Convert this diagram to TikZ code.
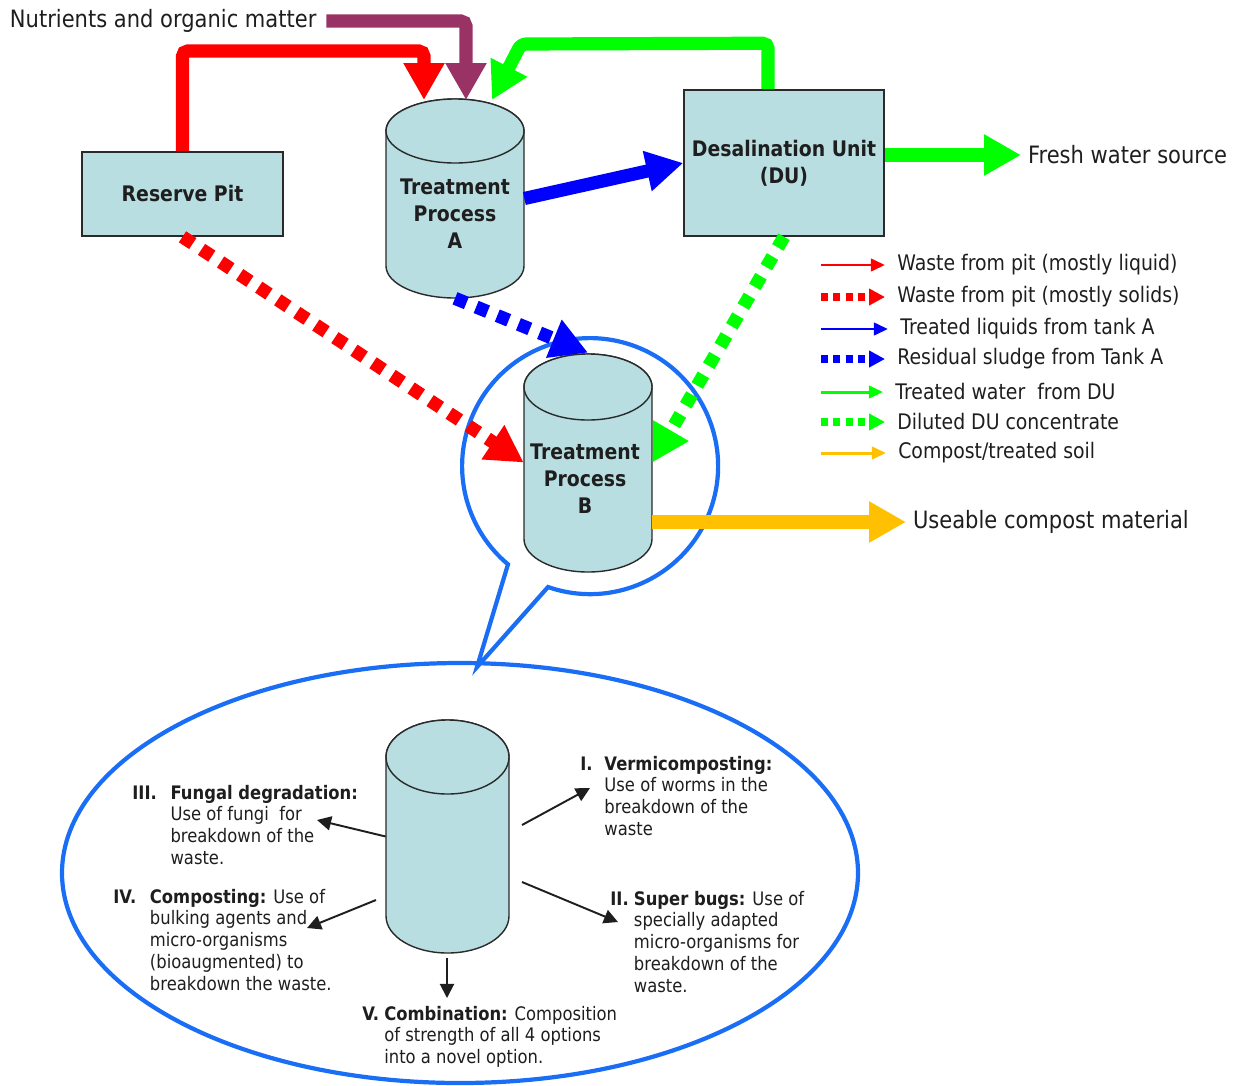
\documentclass[tikz,border=0pt]{standalone}
\usepackage{fontspec}
\setmainfont{DejaVu Sans}[FakeStretch=0.88]
\usetikzlibrary{arrows.meta,calc}
\definecolor{tankfill}{HTML}{B8DEE2}
\definecolor{boxline}{HTML}{2A2A2A}
\definecolor{textgray}{HTML}{1E1E1E}
\definecolor{cred}{HTML}{FF0000}
\definecolor{cpurple}{HTML}{993366}
\definecolor{cgreen}{HTML}{00FF00}
\definecolor{cblue}{HTML}{0000FF}
\definecolor{corange}{HTML}{FFC000}
\definecolor{bubbleblue}{HTML}{1A6EF5}
\newcommand\drawtank[5]{%
  \path[tankbody] ({#1-#3},#2) -- ({#1-#3},#5)
    arc[start angle=180,end angle=0,x radius=#3,y radius=#4]
    -- ({#1+#3},#2)
    arc[start angle=0,end angle=-180,x radius=#3,y radius=#4] -- cycle;
  \path[tankbody] (#1,#2) ellipse[x radius=#3,y radius=#4];
}
\begin{document}
\begin{tikzpicture}[x=0.02cm,y=-0.02cm,
  box/.style={draw=boxline,line width=0.9pt,fill=tankfill,inner sep=0pt,
    font=\bfseries\fontsize{12.2}{15.3}\selectfont,align=center,text=textgray},
  tankbody/.style={fill=tankfill,draw=boxline,line width=0.8pt},
  hidden/.style={inner sep=0pt,draw=none},
  tanklabel/.style={font=\bfseries\fontsize{12.2}{15.3}\selectfont,align=center,inner sep=0pt,text=textgray},
  big/.style={font=\fontsize{13.6}{16}\selectfont,inner sep=0pt,outer xsep=4pt,anchor=west,text=textgray},
  legtext/.style={font=\fontsize{12.2}{14}\selectfont,inner sep=0pt,outer xsep=7pt,anchor=west,text=textgray},
  fat/.style={line width=7.5pt,-{Triangle[length=21pt,width=22pt]}},
  fatdot/.style={fat,dash pattern=on 7pt off 6pt},
  leg/.style={line width=1.7pt,-{Triangle[length=8pt,width=7pt]}},
  legdot/.style={line width=4pt,dash pattern=on 4pt off 3pt,-{Triangle[length=9pt,width=9pt]}},
  thinarrow/.style={line width=1.1pt,textgray,-{Triangle[length=8pt,width=8pt]}},
  note/.style={font=\fontsize{10.6}{12.5}\selectfont,inner sep=0pt,anchor=base west,text=textgray},
  bubble/.style={draw=bubbleblue,line width=2.4pt}
]
\useasboundingbox (0,0) rectangle (1236,1085);

% ---- callout bubble and big ellipse
\draw[bubble,line join=miter] (548,587) arc[start angle=109.2,end angle=-230.1,radius=128] -- (477,667) -- cycle;
\draw[bubble] (460,873) ellipse[x radius=398,y radius=210];

% ---- tanks
\drawtank{455}{131}{69}{32}{266}
\node[hidden,minimum width=2.76cm,minimum height=3.98cm] (tankA) at (455,198.5) {};
\node[tanklabel] (tankAtxt) at (455,214) {Treatment\\Process\\A};

\drawtank{588}{387}{64}{33}{539}
\node[hidden,minimum width=2.56cm,minimum height=4.38cm] (tankB) at (588,462.5) {};
\node[tanklabel] (tankBtxt) at (585,479) {Treatment\\Process\\B};

\drawtank{447.5}{757}{61.5}{37}{916}
\node[hidden,minimum width=2.46cm,minimum height=4.66cm] (tankC) at (447.5,836.5) {};

% ---- boxes
\node[box,minimum width=4.02cm,minimum height=1.68cm] (pit) at (182.5,194) {Reserve Pit};
\node[box,minimum width=4.0cm,minimum height=2.92cm] (du) at (784,163) {Desalination Unit\\(DU)};

% ---- texts
\node[big,outer xsep=0pt] (nut) at (10,21) {Nutrients and organic matter};
\node[big] (fresh) at (1021,155) {Fresh water source};
\node[big] (compost) at (906,522) {Useable compost material};

% ---- thick connectors
\coordinate (redtip) at (424,100);
\coordinate (purtip) at (466,100);
\coordinate (grtip) at (492,100);
\draw[fat,cred,rounded corners=3pt] (pit.north) |- ($(redtip)+(0,-49)$) -- (redtip);
\draw[fat,cpurple,rounded corners=3pt] ($(nut.east)+(10,0)$) -| (purtip);
\draw[fat,cgreen,rounded corners=3pt] ($(du.north)+(-16,0)$) -- ++(0,-46) -- (521,44) -- (grtip);
\draw[fat,cblue] (tankA.east) -- (du.west);
\draw[fat,cgreen] (du.east |- fresh.west) -- (fresh.west);
\draw[fatdot,cred] (pit.south) -- (tankB.west);
\draw[fatdot,cblue] (tankA.south) -- (tankB.north);
\draw[fatdot,cgreen] (du.south) -- (tankB.east);
\draw[fat,corange] (tankB.east |- compost.west) -- (compost.west);

% ---- legend
\node[legtext] (leg1) at (885,265) {Waste from pit (mostly liquid)};
\node[legtext] (leg2) at (885,297) {Waste from pit (mostly solids)};
\node[legtext] (leg3) at (888,329) {Treated liquids from tank A};
\node[legtext] (leg4) at (885,359) {Residual sludge from Tank A};
\node[legtext] (leg5) at (883,392) {Treated water~ from DU};
\node[legtext] (leg6) at (885,422) {Diluted DU concentrate};
\node[legtext] (leg7) at (886,453) {Compost/treated soil};
\draw[leg,cred] ($(leg1.west)+(-64,0)$) -- (leg1.west);
\draw[legdot,cred] ($(leg2.west)+(-64,0)$) -- (leg2.west);
\draw[leg,cblue] ($(leg3.west)+(-67,0)$) -- (leg3.west);
\draw[legdot,cblue] ($(leg4.west)+(-64,0)$) -- (leg4.west);
\draw[leg,cgreen] ($(leg5.west)+(-62,0)$) -- (leg5.west);
\draw[legdot,cgreen] ($(leg6.west)+(-64,0)$) -- (leg6.west);
\draw[leg,corange] ($(leg7.west)+(-65,0)$) -- (leg7.west);

% ---- notes in the ellipse
\node[note] (n3) at (132,799) {\begin{tabular}[t]{@{}l@{\hspace{7.8pt}}l@{}}\textbf{III.} & \textbf{Fungal degradation:}\\ & Use of fungi~ for\\ & breakdown of the\\ & waste.\end{tabular}};
\node[note] (n4) at (113,903) {\begin{tabular}[t]{@{}l@{\hspace{7.8pt}}l@{}}\textbf{IV.} & \textbf{Composting:} Use of\\ & bulking agents and\\ & micro-organisms\\ & (bioaugmented) to\\ & breakdown the waste.\end{tabular}};
\node[note] (n5) at (362,1020) {\begin{tabular}[t]{@{}l@{\ }l@{}}\textbf{V.} & \textbf{Combination:} Composition\\ & of strength of all 4 options\\ & into a novel option.\end{tabular}};
\node[note] (n1) at (580,770) {\begin{tabular}[t]{@{}l@{\hspace{6.7pt}}l@{}}\textbf{I.} & \textbf{Vermicomposting:}\\ & Use of worms in the\\ & breakdown of the\\ & waste\end{tabular}};
\node[note] (n2) at (610,905) {\begin{tabular}[t]{@{}l@{\ }l@{}}\textbf{II.} & \textbf{Super bugs:} Use of\\ & specially adapted\\ & micro-organisms for\\ & breakdown of the\\ & waste.\end{tabular}};

\coordinate (t3) at (317,820);
\coordinate (s4) at (376,900);
\coordinate (t4) at (307,928);
\coordinate (s5) at (447,958);
\coordinate (t5) at (447,998);
\coordinate (s1) at (522,825);
\coordinate (t1) at (590,788);
\coordinate (s2) at (522,882);
\coordinate (t2) at (618,922);
\draw[thinarrow] (tankC.west) -- (t3);
\draw[thinarrow] (s4) -- (t4);
\draw[thinarrow] (s5) -- (t5);
\draw[thinarrow] (s1) -- (t1);
\draw[thinarrow] (s2) -- (t2);
\end{tikzpicture}
\end{document}
